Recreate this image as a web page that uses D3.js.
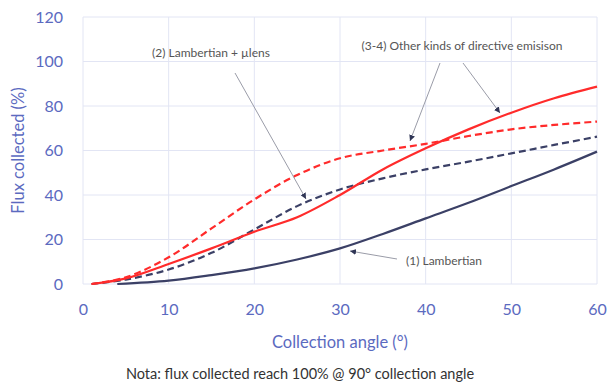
<!DOCTYPE html>
<html>
<head>
<meta charset="utf-8">
<script src="https://cdn.jsdelivr.net/npm/d3@7"></script>
<style>
  body { margin: 0; background: #fff; }
  svg { display: block; font-family: Lato, "Open Sans", sans-serif; }
</style>
</head>
<body>
<div id="chart"></div>
<script>
// collection angle (deg) and flux collected (%)
var angles = [1, 5, 10, 15, 20, 25, 30, 35, 40, 45, 50, 55, 60];
var lambAngles = [4, 10, 15, 20, 25, 30, 35, 40, 45, 50, 55, 60];
var lambertian = [0, 1.5, 4, 7, 11, 16, 22.5, 29.5, 36.5, 44, 51.5, 59.5];
var lambLens = [0, 2, 6.5, 14, 24.5, 35, 42.5, 47.5, 51.5, 55, 58.7, 62.5, 66.2];
var directiveSolid = [0, 2.5, 9, 16, 23.5, 30, 40, 51.5, 61, 69.5, 77, 83.5, 88.7];
var directiveDash = [0, 3, 12, 25, 38, 49, 56.5, 60, 63, 66.5, 69.5, 71.5, 73];
var xTicks = [0, 10, 20, 30, 40, 50, 60];
var yTicks = [0, 20, 40, 60, 80, 100, 120];

var width = 608, height = 387;
var margin = {top: 17, right: 11, bottom: 103, left: 83};

var svg = d3.select("#chart").append("svg")
    .attr("width", width)
    .attr("height", height);

var x = d3.scaleLinear().domain([0, 60]).range([margin.left, width - margin.right]);
var y = d3.scaleLinear().domain([0, 120]).range([height - margin.bottom, margin.top]);

var axisColor = "#5b6abf";
var navy = "#3b4066";
var red = "#ff2b2b";

// grid
var grid = svg.append("g").attr("stroke", "#e2e5f4").attr("stroke-width", 1);
grid.selectAll(".gx").data(xTicks).enter().append("line")
    .attr("x1", function (d) { return x(d); })
    .attr("x2", function (d) { return x(d); })
    .attr("y1", y(0)).attr("y2", y(120));
grid.selectAll(".gy").data(yTicks).enter().append("line")
    .attr("y1", function (d) { return y(d); })
    .attr("y2", function (d) { return y(d); })
    .attr("x1", x(0)).attr("x2", x(60));

// axes
var xAxis = svg.append("g")
    .attr("transform", "translate(0," + y(0) + ")")
    .call(d3.axisBottom(x).tickValues(xTicks).tickSize(0).tickPadding(20));
var yAxis = svg.append("g")
    .attr("transform", "translate(" + x(0) + ",0)")
    .call(d3.axisLeft(y).tickValues(yTicks).tickSize(0).tickPadding(20));
[xAxis, yAxis].forEach(function (a) {
    a.select(".domain").remove();
    a.selectAll("text")
        .style("font-size", "16px")
        .style("font-family", "Lato, sans-serif")
        .attr("fill", axisColor);
});

svg.append("text")
    .attr("x", x(30)).attr("y", 348)
    .attr("text-anchor", "middle")
    .attr("fill", axisColor)
    .style("font-size", "16.5px")
    .text("Collection angle (°)");

svg.append("text")
    .attr("transform", "translate(24," + y(60) + ") rotate(-90)")
    .attr("text-anchor", "middle")
    .attr("fill", axisColor)
    .style("font-size", "16.5px")
    .text("Flux collected (%)");

svg.append("text")
    .attr("x", 300).attr("y", 379)
    .attr("text-anchor", "middle")
    .attr("fill", "#333")
    .style("font-size", "14.5px")
    .text("Nota: flux collected reach 100% @ 90° collection angle");

// curves
var line = d3.line()
    .x(function (d) { return x(d[0]); })
    .y(function (d) { return y(d[1]); })
    .curve(d3.curveCatmullRom.alpha(0.5));

var series = [
    {a: lambAngles, v: lambertian, color: navy, dash: null},
    {a: angles, v: lambLens, color: navy, dash: "7,4"},
    {a: angles, v: directiveDash, color: red, dash: "7,4"},
    {a: angles, v: directiveSolid, color: red, dash: null}
];
series.forEach(function (s) {
    svg.append("path")
        .datum(d3.zip(s.a, s.v))
        .attr("fill", "none")
        .attr("stroke", s.color)
        .attr("stroke-width", 2.2)
        .attr("stroke-dasharray", s.dash)
        .attr("d", line);
});

// annotations
svg.append("defs").append("marker")
    .attr("id", "tip")
    .attr("viewBox", "0 0 10 10")
    .attr("refX", 10).attr("refY", 5)
    .attr("markerWidth", 6).attr("markerHeight", 6)
    .attr("markerUnits", "userSpaceOnUse")
    .attr("orient", "auto")
    .append("path")
    .attr("d", "M0,0L10,5L0,10Z")
    .attr("fill", "#2f3555");

var notes = [
    {text: "(2) Lambertian + µlens", tx: 211, ty: 57, arrows: [[235, 73, 306, 199]]},
    {text: "(3-4) Other kinds of directive emisison", tx: 462, ty: 50, arrows: [[440, 63, 410, 141], [463, 63, 500, 113]]},
    {text: "(1) Lambertian", tx: 444, ty: 265, arrows: [[397, 259, 350, 251]]}
];
notes.forEach(function (n) {
    svg.append("text")
        .attr("x", n.tx).attr("y", n.ty)
        .attr("text-anchor", "middle")
        .attr("fill", "#555")
        .style("font-size", "12px")
        .text(n.text);
    n.arrows.forEach(function (ar) {
        svg.append("line")
            .attr("x1", ar[0]).attr("y1", ar[1])
            .attr("x2", ar[2]).attr("y2", ar[3])
            .attr("stroke", "#9a9ca8")
            .attr("stroke-width", 1)
            .attr("marker-end", "url(#tip)");
    });
});
</script>
</body>
</html>
